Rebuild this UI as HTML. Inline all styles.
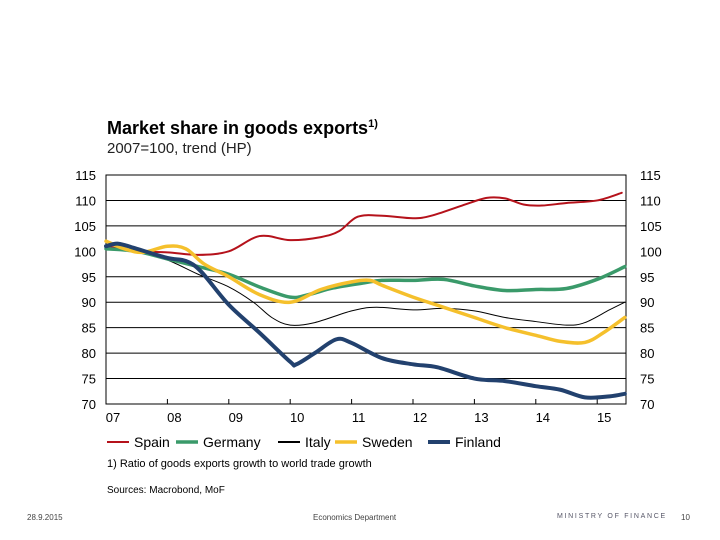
<!DOCTYPE html>
<html><head><meta charset="utf-8"><style>
body{margin:0;background:#fff;font-family:"Liberation Sans",sans-serif;}
#wrap{position:relative;width:720px;height:540px;overflow:hidden;}
.t{position:absolute;white-space:nowrap;color:#000;}
</style></head><body>
<div id="wrap">
<div class="t" style="left:107px;top:118px;font-size:18px;font-weight:bold;">Market share in goods exports<sup style="font-size:11px">1)</sup></div>
<div class="t" style="left:107px;top:140px;font-size:15px;color:#222;">2007=100, trend (HP)</div>
<svg id="chart" width="720" height="540" style="position:absolute;left:0;top:0"></svg>
<div class="t" style="left:107px;top:458px;font-size:11px;">1) Ratio of goods exports growth to world trade growth</div>
<div class="t" style="left:107px;top:485px;font-size:10px;">Sources: Macrobond, MoF</div>
<div class="t" style="left:27px;top:513px;font-size:8px;color:#444;">28.9.2015</div>
<div class="t" style="left:313px;top:513px;font-size:8px;color:#444;">Economics Department</div>
<div class="t" style="left:557px;top:513px;font-size:7px;color:#556;letter-spacing:1.7px;">MINISTRY OF FINANCE</div>
<div class="t" style="left:681px;top:513px;font-size:8px;color:#444;">10</div>
</div>
<script>
const yTicks=[70,75,80,85,90,95,100,105,110,115];
const gridVals=[75,80,85,90,95,105,110];
const years=[2007,2008,2009,2010,2011,2012,2013,2014,2015];
const yearLabels=["07","08","09","10","11","12","13","14","15"];
const seriesNames=["Spain","Germany","Italy","Sweden","Finland"];
const spainT=[2007,2007.5,2008,2008.5,2009,2009.5,2010,2010.5,2010.8,2011.1,2011.5,2012,2012.3,2012.8,2013.2,2013.5,2013.8,2014.1,2014.5,2015,2015.4];
const spainV=[101,100,99.8,99.3,100,103,102.2,102.8,104,106.8,107,106.5,107,109,110.5,110.4,109.2,109,109.5,110,111.5];
const germanyT=[2007,2007.5,2008,2008.5,2009,2009.5,2010,2010.3,2010.7,2011.2,2011.5,2012,2012.5,2013,2013.5,2014,2014.5,2015,2015.45];
const germanyV=[100.5,100,98.5,97,95.5,93,91,91.5,92.8,93.8,94.3,94.3,94.5,93.2,92.3,92.5,92.7,94.5,97];
const italyT=[2007,2007.5,2008,2008.5,2009,2009.4,2009.7,2010,2010.4,2011,2011.4,2012,2012.5,2013,2013.5,2014,2014.5,2014.8,2015.2,2015.45];
const italyV=[101,100,98.3,95.5,93,90,87,85.5,86,88.3,89,88.5,88.8,88.3,87,86.2,85.5,86,88.5,90];
const swedenT=[2007,2007.3,2007.6,2008,2008.3,2008.6,2009,2009.5,2010,2010.5,2011,2011.3,2011.5,2012,2012.5,2013,2013.5,2014,2014.4,2014.8,2015.1,2015.45];
const swedenV=[102,100.5,99.8,101,100.5,97.5,95,91.5,90,92.5,94,94.3,93.3,91,89,87,85,83.5,82.3,82.1,84,87];
const finlandT=[2007,2007.2,2007.5,2008,2008.3,2008.55,2009,2009.5,2010,2010.1,2010.4,2010.75,2011,2011.5,2012,2012.4,2013,2013.5,2014,2014.4,2014.8,2015.2,2015.45];
const finlandV=[101,101.5,100.5,98.7,98.1,96,89.5,84,78.3,77.8,80,82.7,82,79,77.8,77.2,75,74.5,73.5,72.8,71.3,71.5,72];
const NS="http://www.w3.org/2000/svg";
const svg=document.getElementById('chart');
const L=106,R=626,T=175,B=404;
function x(t){return L+(t-2007)*61.4;}
function y(v){return B-(v-70)*(B-T)/45;}
function mk(tag,attrs){const e=document.createElementNS(NS,tag);for(const k in attrs)e.setAttribute(k,attrs[k]);svg.appendChild(e);return e;}
gridVals.forEach(v=>{const g=mk('line',{x1:L,x2:R,y1:y(v),y2:y(v),stroke:'#000','stroke-width':1});

});
const fr=mk('rect',{x:L,y:T,width:R-L,height:B-T,fill:'none',stroke:'#000','stroke-width':1});


yTicks.forEach(v=>{
 const a=mk('text',{x:L-10,y:y(v)+5,'text-anchor':'end','font-size':13,'font-family':'Liberation Sans'});a.textContent=v;
 
 
 const b=mk('text',{x:R+14,y:y(v)+5,'font-size':13,'font-family':'Liberation Sans'});b.textContent=v;
 
 
});
years.forEach((yr,i)=>{
 if(i>0){const tk=mk('line',{x1:x(yr),x2:x(yr),y1:B,y2:B-5,stroke:'#000'});
 
 }
 const lb=mk('text',{x:x(yr)+7,y:B+18,'text-anchor':'middle','font-size':13,'font-family':'Liberation Sans'});lb.textContent=yearLabels[i];
 
 
});
function path(ts,vs){const p=ts.map((t,i)=>[x(t),y(vs[i])]);let d='M'+p[0][0]+','+p[0][1];
 for(let i=0;i<p.length-1;i++){const p0=p[Math.max(0,i-1)],p1=p[i],p2=p[i+1],p3=p[Math.min(p.length-1,i+2)];
 const c1=[p1[0]+(p2[0]-p0[0])/6,p1[1]+(p2[1]-p0[1])/6],c2=[p2[0]-(p3[0]-p1[0])/6,p2[1]-(p3[1]-p1[1])/6];
 d+=` C${c1[0]},${c1[1]} ${c2[0]},${c2[1]} ${p2[0]},${p2[1]}`;}return d;}
const defs=[[spainT,spainV,'#b5121b',2,'spain-line'],[germanyT,germanyV,'#3a9a6a',3.5,'germany-line'],[italyT,italyV,'#000',1,'italy-line'],[swedenT,swedenV,'#f5c02c',3.5,'sweden-line'],[finlandT,finlandV,'#22416e',4,'finland-line']];
const order=[2,0,1,3,4];
order.forEach(i=>{const d=defs[i];const pl=mk('path',{d:path(d[0],d[1]),fill:'none',stroke:d[2],'stroke-width':d[3],'stroke-linejoin':'round','stroke-linecap':'round'});
 
 });
const legX=[107,176,278,335,428];
defs.forEach((d,i)=>{
 const ln=mk('line',{x1:legX[i],x2:legX[i]+22,y1:442,y2:442,stroke:d[2],'stroke-width':Math.max(2,d[3])});
 
 
 const tx=mk('text',{x:legX[i]+27,y:447,'font-size':14,'font-family':'Liberation Sans'});tx.textContent=seriesNames[i];
 
 
});
</script>
</body></html>
